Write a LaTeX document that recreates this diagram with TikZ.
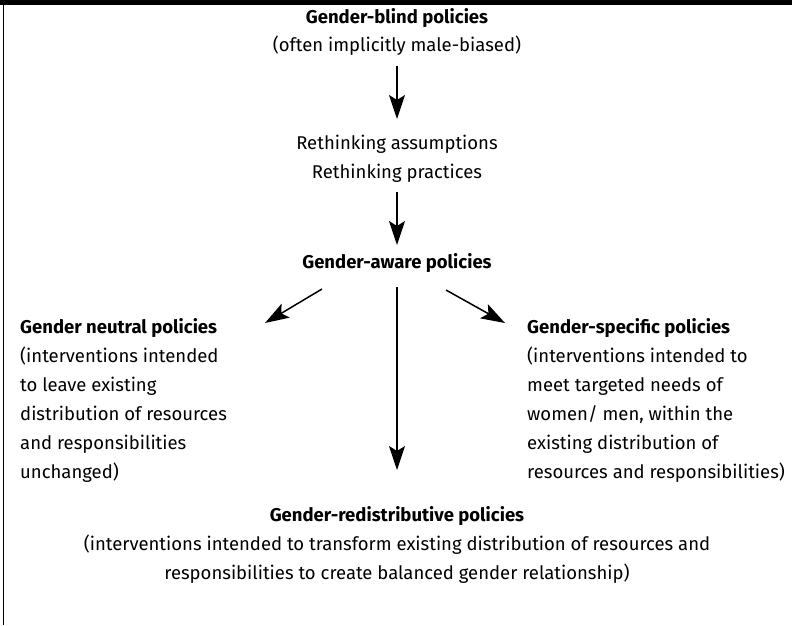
\documentclass[tikz,border=0pt]{standalone}
\usepackage{fontspec}
\setmainfont{Fira Sans}
\usetikzlibrary{arrows.meta}
\begin{document}
\begin{tikzpicture}[x=1pt,y=-1pt,
  txt/.style={inner sep=0pt, font=\fontsize{18.5}{29}\selectfont},
  arr/.style={line width=1.5pt, -{Stealth[length=24pt,width=16pt,inset=5pt]}}
]
\useasboundingbox (0,0) rectangle (792,625);
\fill (0,0) rectangle (792,5);
\draw[line width=1.8pt] (3.5,0) -- (3.5,625);

\node[txt, anchor=base] (blind) at (397,23) {\textbf{Gender-blind policies}};
\node[txt, anchor=base] (often) at (397,51) {(often implicitly male-biased)};
\node[txt, anchor=base] (re1) at (397,149) {Rethinking assumptions};
\node[txt, anchor=base] (re2) at (397,178) {Rethinking practices};
\node[txt, anchor=base] (aware) at (397,268) {\textbf{Gender-aware policies}};

\node[txt, anchor=north west, align=left] (neutral) at (20,318)
  {\textbf{Gender neutral policies}\\(interventions intended\\to leave existing\\distribution of resources\\and responsibilities\\unchanged)};
\node[txt, anchor=north west, align=left] (specific) at (527,318)
  {\textbf{Gender-specific policies}\\(interventions intended to\\meet targeted needs of\\women/ men, within the\\existing distribution of\\resources and responsibilities)};
\node[txt, anchor=north, align=center] (redis) at (397,506)
  {\textbf{Gender-redistributive policies}\\(interventions intended to transform existing distribution of resources and\\responsibilities to create balanced gender relationship)};

\coordinate (a1s) at (397,66);
\coordinate (a1e) at (397,119);
\coordinate (a2s) at (397,192);
\coordinate (a2e) at (397,245);
\coordinate (ls) at (322,289);
\coordinate (le) at (265,323);
\coordinate (rs) at (446,290);
\coordinate (re) at (505,323);
\coordinate (cs) at (397,287);
\coordinate (ce) at (397,470);

\draw[arr] (a1s) -- (a1e);
\draw[arr] (a2s) -- (a2e);
\draw[arr] (ls) -- (le);
\draw[arr] (rs) -- (re);
\draw[arr] (cs) -- (ce);
\end{tikzpicture}
\end{document}
